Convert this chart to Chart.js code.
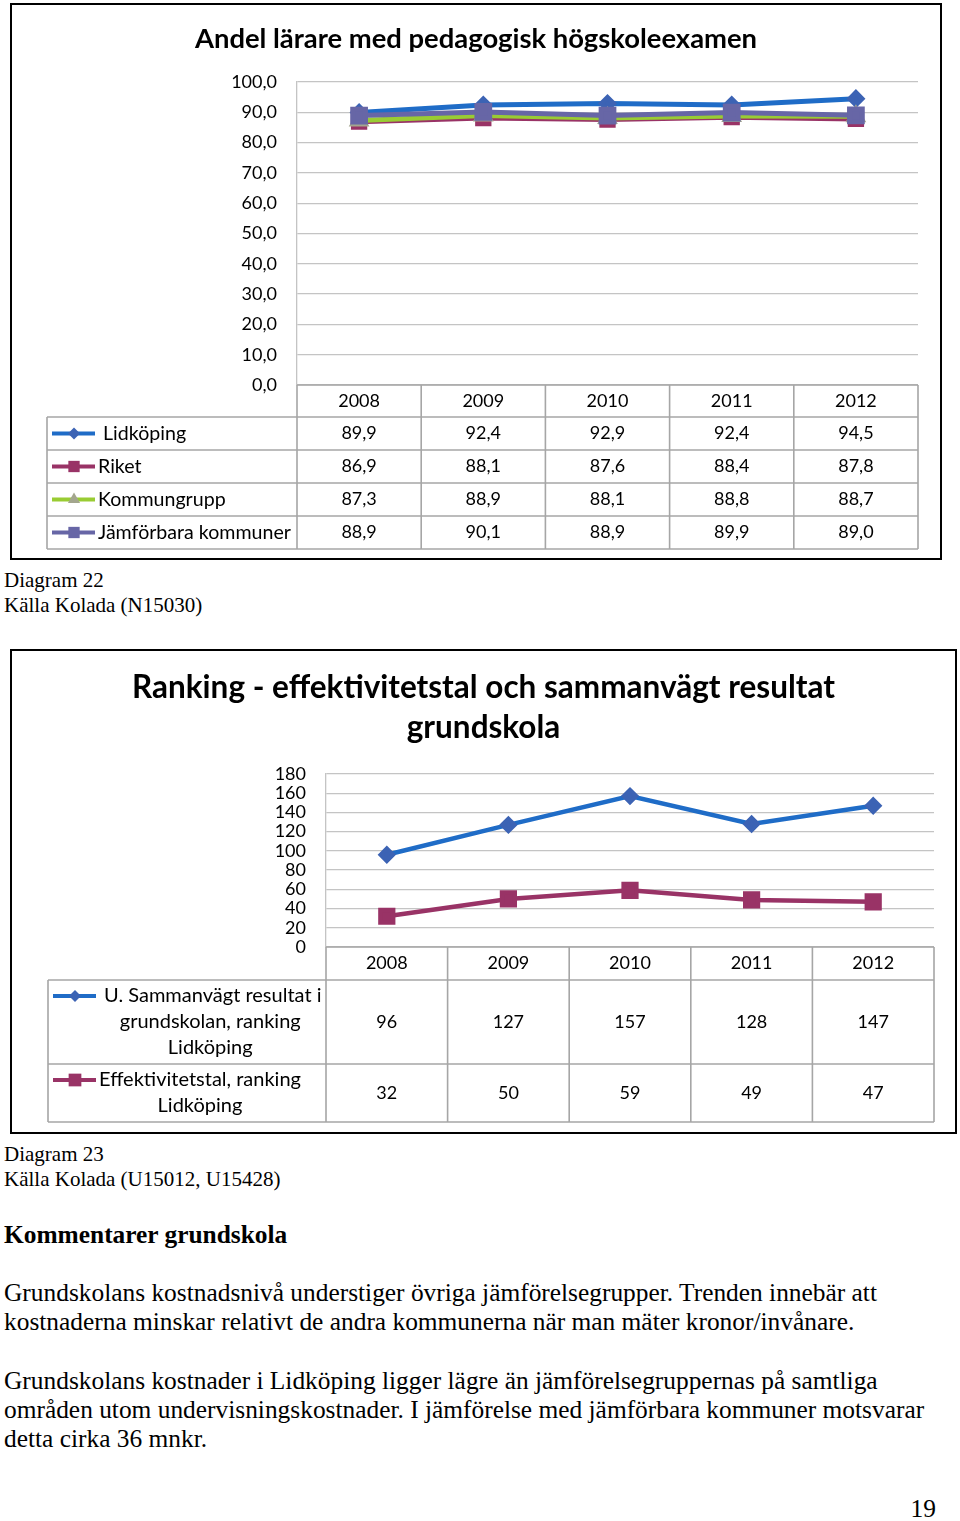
<!DOCTYPE html>
<html><head><meta charset="utf-8">
<script src="https://cdn.jsdelivr.net/npm/chart.js@4/dist/chart.umd.min.js"></script>
<style>
body{margin:0;background:#fff;width:960px;height:1521px;position:relative;overflow:hidden;font-family:'Liberation Serif','Times New Roman',serif;color:#000}
.box{position:absolute;border:2px solid #000;box-sizing:border-box;background:#fff}
#box1{left:10px;top:3px;width:932px;height:557px}
#box2{left:10px;top:649px;width:947px;height:485px}
.box canvas{position:absolute;left:0;top:0}
.t{position:absolute;left:4px;white-space:nowrap}
.cap{font-size:21px;line-height:25px}
.body{font-size:25.4px;line-height:29px}
</style></head>
<body>
<div class="box" id="box1"><canvas id="c1" width="928" height="553"></canvas></div>
<div class="t cap" style="top:568px">Diagram 22<br>Källa Kolada (N15030)</div>
<div class="box" id="box2"><canvas id="c2" width="943" height="481"></canvas></div>
<div class="t cap" style="top:1142px">Diagram 23<br>Källa Kolada (U15012, U15428)</div>
<div class="t body" style="top:1220px;font-weight:bold">Kommentarer grundskola</div>
<div class="t body" style="top:1278px">Grundskolans kostnadsnivå understiger övriga jämförelsegrupper. Trenden innebär att<br>kostnaderna minskar relativt de andra kommunerna när man mäter kronor/invånare.</div>
<div class="t body" style="top:1366px">Grundskolans kostnader i Lidköping ligger lägre än jämförelsegruppernas på samtliga<br>områden utom undervisningskostnader. I jämförelse med jämförbara kommuner motsvarar<br>detta cirka 36 mnkr.</div>
<div class="t body" style="top:1494px;left:auto;right:24px">19</div>
<script>
// ---- Data: Diagram 22 ----
const years = ['2008', '2009', '2010', '2011', '2012'];
const seriesNames1 = [' Lidköping', 'Riket', 'Kommungrupp', 'Jämförbara kommuner'];
const lidkoping = [89.9, 92.4, 92.9, 92.4, 94.5];
const riket = [86.9, 88.1, 87.6, 88.4, 87.8];
const kommungrupp = [87.3, 88.9, 88.1, 88.8, 88.7];
const jamforbara = [88.9, 90.1, 88.9, 89.9, 89.0];
const title1 = 'Andel lärare med pedagogisk högskoleexamen';

// ---- Data: Diagram 23 ----
const title2 = ['Ranking - effektivitetstal och sammanvägt resultat', 'grundskola'];
const seriesNames2 = [[' U. Sammanvägt resultat i', 'grundskolan, ranking', 'Lidköping'], ['Effektivitetstal, ranking', 'Lidköping']];
const sammanvagt = [96, 127, 157, 128, 147];
const effektivitet = [32, 50, 59, 49, 47];

const FONT = 'Lato, "Open Sans", sans-serif';
const fmtComma = v => Number(v).toFixed(1).replace('.', ',');

function drawMarker(ctx, style, x, y, r, color) {
  ctx.save();
  ctx.fillStyle = color;
  ctx.beginPath();
  if (style === 'rectRot') {
    ctx.moveTo(x, y - r); ctx.lineTo(x + r, y); ctx.lineTo(x, y + r); ctx.lineTo(x - r, y);
  } else if (style === 'rect') {
    const s = r * Math.SQRT1_2;
    ctx.rect(x - s, y - s, 2 * s, 2 * s);
  } else if (style === 'triangle') {
    ctx.moveTo(x, y - r); ctx.lineTo(x + r * 0.866, y + r * 0.5); ctx.lineTo(x - r * 0.866, y + r * 0.5);
  }
  ctx.closePath();
  ctx.fill();
  ctx.restore();
}

const dataTablePlugin = {
  id: 'dataTable',
  afterDraw(chart, args, o) {
    const ctx = chart.ctx, xs = chart.scales.x, area = chart.chartArea;
    const labels = chart.data.labels, n = labels.length;
    const colW = (xs.right - xs.left) / n;
    const top = area.bottom;
    const edges = [top];
    o.rowHeights.forEach(h => edges.push(edges[edges.length - 1] + h));
    const bottom = edges[edges.length - 1];
    const L = o.legendLeft;
    ctx.save();
    ctx.strokeStyle = o.borderColor;
    ctx.lineWidth = o.borderWidth;
    ctx.beginPath();
    ctx.moveTo(xs.left, top); ctx.lineTo(xs.right, top);
    for (let i = 1; i < edges.length; i++) { ctx.moveTo(L, edges[i]); ctx.lineTo(xs.right, edges[i]); }
    for (let j = 0; j <= n; j++) { const xx = xs.left + j * colW; ctx.moveTo(xx, top); ctx.lineTo(xx, bottom); }
    ctx.moveTo(L, edges[1]); ctx.lineTo(L, bottom);
    ctx.stroke();
    ctx.fillStyle = '#000';
    ctx.textBaseline = 'middle';
    ctx.font = o.valueFont;
    ctx.textAlign = 'center';
    labels.forEach((lab, j) => ctx.fillText(lab, xs.getPixelForValue(j), (edges[0] + edges[1]) / 2));
    chart.data.datasets.forEach((ds, i) => {
      const cy = (edges[i + 1] + edges[i + 2]) / 2;
      ds.data.forEach((v, j) => {
        ctx.font = o.valueFont; ctx.textAlign = 'center';
        ctx.fillText(o.format(v), xs.getPixelForValue(j), cy);
      });
      const lines = o.legendLines[i];
      const y0 = cy - (lines.length - 1) * o.legendLineHeight / 2;
      ctx.save();
      ctx.strokeStyle = ds.borderColor; ctx.lineWidth = o.legendLineWidth;
      ctx.beginPath(); ctx.moveTo(L + 5, y0); ctx.lineTo(L + 48, y0); ctx.stroke();
      ctx.restore();
      drawMarker(ctx, ds.pointStyle, L + 27, y0, o.legendMarkerRadius[i], ds.pointBackgroundColor);
      ctx.font = o.legendFont; ctx.textAlign = 'left';
      const x0 = L + 51;
      ctx.fillText(lines[0], x0, y0);
      const c0 = x0 + ctx.measureText(lines[0]).width / 2;
      ctx.textAlign = 'center';
      for (let k = 1; k < lines.length; k++) ctx.fillText(lines[k], c0, y0 + k * o.legendLineHeight);
    });
    ctx.restore();
  }
};

function yAxis(min, max, step, width, fmt, gridColor) {
  return {
    min, max,
    ticks: { stepSize: step, autoSkip: false, padding: 20, color: '#000', font: { family: FONT, size: 18 }, callback: fmt },
    grid: { color: gridColor, lineWidth: 1.3, drawTicks: false },
    border: { display: true, color: gridColor, width: 1.3 },
    afterFit(s) { s.width = width; }
  };
}
// empty spacer axis on the right so the title stays centred on the whole box
function spacerAxis(width) {
  return {
    position: 'right', display: true,
    ticks: { display: false }, grid: { display: false, drawTicks: false }, border: { display: false },
    afterFit(s) { s.width = width; }
  };
}

new Chart(document.getElementById('c1'), {
  type: 'line',
  data: {
    labels: years,
    datasets: [
      { label: seriesNames1[0], data: lidkoping, borderColor: '#1f6cc7', borderWidth: 5, pointStyle: 'rectRot', pointRadius: 6, pointBackgroundColor: '#3c63b4', pointBorderColor: '#3c63b4', order: 3 },
      { label: seriesNames1[1], data: riket, borderColor: '#993366', borderWidth: 5, pointStyle: 'rect', pointRadius: 8, pointBackgroundColor: '#993366', pointBorderColor: '#993366', order: 2 },
      { label: seriesNames1[2], data: kommungrupp, borderColor: '#99cc33', borderWidth: 5, pointStyle: 'triangle', pointRadius: 7, pointBackgroundColor: '#a3a68e', pointBorderColor: '#a3a68e', order: 1 },
      { label: seriesNames1[3], data: jamforbara, borderColor: '#6766a6', borderWidth: 5, pointStyle: 'rect', pointRadius: 9, pointBackgroundColor: '#6766a6', pointBorderColor: '#6766a6', order: 0 }
    ]
  },
  options: {
    responsive: false, animation: false,
    layout: { padding: { left: 0, right: 0, top: 0, bottom: 173 } },
    elements: { line: { tension: 0 } },
    scales: {
      x: { display: false, offset: true },
      y: yAxis(0, 100, 10, 285, v => fmtComma(v), '#c4c4c4'),
      yR: spacerAxis(22)
    },
    plugins: {
      legend: { display: false }, tooltip: { enabled: false },
      title: { display: true, text: title1, color: '#000', font: { family: FONT, size: 27.4, weight: 'bold', lineHeight: 1.2 }, padding: { top: 17.5, bottom: 26.6 } },
      dataTable: {
        rowHeights: [32, 33, 33, 33, 33], legendLeft: 35, borderColor: '#a6a6a6', borderWidth: 1.6,
        valueFont: '18px ' + FONT, legendFont: '19.6px ' + FONT, legendLineHeight: 26, legendLineWidth: 4,
        legendMarkerRadius: [6, 8, 7, 8],
        legendLines: seriesNames1.map(s => [s]), format: fmtComma
      }
    }
  },
  plugins: [dataTablePlugin]
});

new Chart(document.getElementById('c2'), {
  type: 'line',
  data: {
    labels: years,
    datasets: [
      { label: seriesNames2[0].join(' '), data: sammanvagt, borderColor: '#1f6cc7', borderWidth: 4.5, pointStyle: 'rectRot', pointRadius: 6, pointBackgroundColor: '#3c63b4', pointBorderColor: '#3c63b4' },
      { label: seriesNames2[1].join(' '), data: effektivitet, borderColor: '#993366', borderWidth: 4.5, pointStyle: 'rect', pointRadius: 9, pointBackgroundColor: '#993366', pointBorderColor: '#993366' }
    ]
  },
  options: {
    responsive: false, animation: false,
    layout: { padding: { left: 0, right: 0, top: 0, bottom: 185 } },
    elements: { line: { tension: 0 } },
    scales: {
      x: { display: false, offset: true },
      y: yAxis(0, 180, 20, 314, v => String(v), '#c4c4c4'),
      yR: spacerAxis(21)
    },
    plugins: {
      legend: { display: false }, tooltip: { enabled: false },
      title: { display: true, text: title2, color: '#000', font: { family: FONT, size: 31.5, weight: 'bold', lineHeight: 40 / 31.5 }, padding: { top: 17, bottom: 26 } },
      dataTable: {
        rowHeights: [33, 84, 58], legendLeft: 36, borderColor: '#a6a6a6', borderWidth: 1.6,
        valueFont: '18px ' + FONT, legendFont: '20px ' + FONT, legendLineHeight: 26, legendLineWidth: 4,
        legendMarkerRadius: [6, 9],
        legendLines: seriesNames2, format: v => String(v)
      }
    }
  },
  plugins: [dataTablePlugin]
});
</script>
</body></html>
